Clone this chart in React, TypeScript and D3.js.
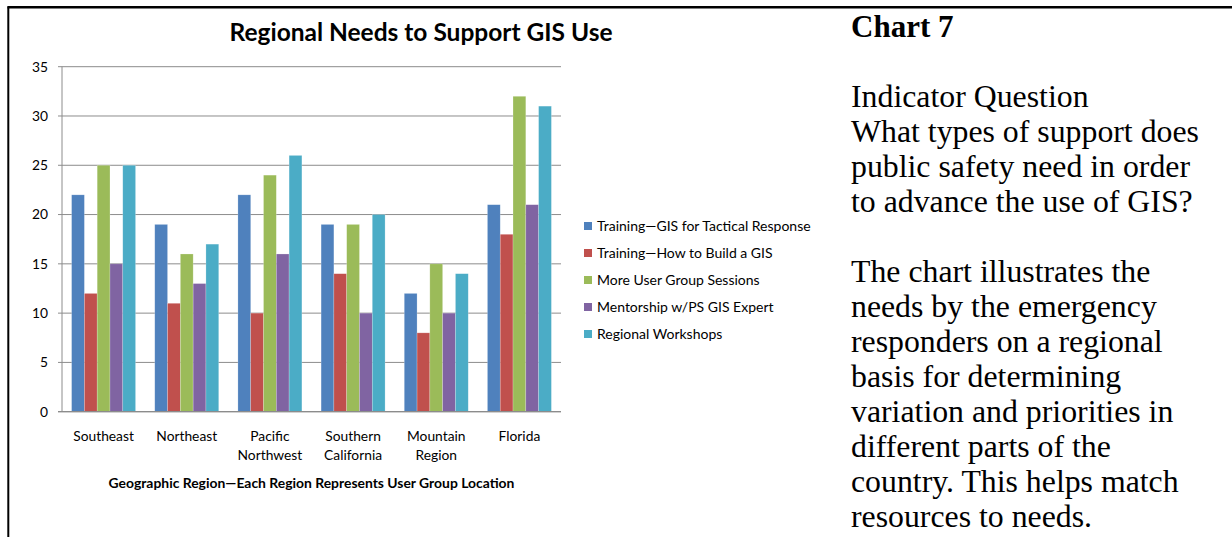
import React from "react";
import * as d3 from "d3";

const categories = ["Southeast", "Northeast", "Pacific Northwest", "Southern California", "Mountain Region", "Florida"];
const seriesNames = [
  "Training—GIS for Tactical Response",
  "Training—How to Build a GIS",
  "More User Group Sessions",
  "Mentorship w/PS GIS Expert",
  "Regional Workshops",
];
const tacticalResponse = [22, 19, 22, 19, 12, 21];
const buildGIS = [12, 11, 10, 14, 8, 18];
const userGroupSessions = [25, 16, 24, 19, 15, 32];
const mentorship = [15, 13, 16, 10, 10, 21];
const regionalWorkshops = [25, 17, 26, 20, 14, 31];
const yTicks = [0, 5, 10, 15, 20, 25, 30, 35];

const chartTitle = "Regional Needs to Support GIS Use";
const xAxisTitle = "Geographic Region—Each Region Represents User Group Location";
const sideHeading = "Chart 7";
const sideLines = [
  "",
  "Indicator Question",
  "What types of support does",
  "public safety need in order",
  "to advance the use of GIS?",
  "",
  "The chart illustrates the",
  "needs by the emergency",
  "responders on a regional",
  "basis for determining",
  "variation and priorities in",
  "different parts of the",
  "country. This helps match",
  "resources to needs.",
];

const colors = ["#4F81BD", "#C0504D", "#9BBB59", "#8064A2", "#4BACC6"];
const seriesValues = [tacticalResponse, buildGIS, userGroupSessions, mentorship, regionalWorkshops];

const W = 1232;
const H = 537;
const plot = { left: 62, right: 561, top: 66.7, bottom: 411.7 };
const sansFont = "Lato, 'Open Sans', sans-serif";
const serifFont = "'Liberation Serif', 'Times New Roman', serif";

export default function App() {
  const x0 = d3.scaleBand().domain(categories).range([plot.left, plot.right]).paddingInner(0).paddingOuter(0);
  // Excel gap width 150%: group = 5 bars, gap = 1.5 bars -> 6.5 bar units per band
  const barUnits = seriesNames.length + 1.5;
  const x1 = d3
    .scaleBand()
    .domain(seriesNames)
    .range([0, (x0.bandwidth() * seriesNames.length) / barUnits])
    .padding(0);
  const groupOffset = (x0.bandwidth() * 0.75) / barUnits;
  const y = d3.scaleLinear().domain([0, 35]).range([plot.bottom, plot.top]);

  const legendX = 584;
  const legendY0 = 226;
  const legendStep = 27;

  return (
    <svg
      width={W}
      height={H}
      style={{ position: "absolute", left: 0, top: 0, background: "#fff" }}
      xmlns="http://www.w3.org/2000/svg"
    >
      <rect x={0} y={0} width={W} height={H} fill="#fff" />
      {/* page table borders */}
      <line x1={7.5} y1={7.3} x2={W} y2={7.3} stroke="#000" strokeWidth={2.4} />
      <line x1={8.3} y1={6.5} x2={8.3} y2={H} stroke="#000" strokeWidth={2} />

      {/* title */}
      <text x={421} y={41} textAnchor="middle" fontFamily={sansFont} fontWeight={700} fontSize={24.5} fill="#000">
        {chartTitle}
      </text>

      {/* gridlines */}
      {yTicks.map((t) => (
        <g key={t}>
          <line x1={plot.left} x2={plot.right} y1={y(t)} y2={y(t)} stroke="#8c8c8c" strokeWidth={1} />
          <line x1={plot.left - 4} x2={plot.left} y1={y(t)} y2={y(t)} stroke="#8c8c8c" strokeWidth={1} />
          <text x={48} y={y(t)} dy="0.35em" textAnchor="end" fontFamily={sansFont} fontSize={13.8} fill="#000">
            {t}
          </text>
        </g>
      ))}
      <line x1={plot.left} x2={plot.left} y1={plot.top} y2={plot.bottom} stroke="#8c8c8c" strokeWidth={1} />

      {/* bars */}
      {categories.map((c, ci) => (
        <g key={c} transform={`translate(${(x0(c) ?? 0) + groupOffset},0)`}>
          {seriesNames.map((s, si) => {
            const v = seriesValues[si][ci];
            return (
              <rect
                key={s}
                x={x1(s)}
                y={y(v)}
                width={x1.bandwidth()}
                height={y(0) - y(v)}
                fill={colors[si]}
                stroke="rgba(255,255,255,0.35)"
                strokeWidth={0.6}
              />
            );
          })}
        </g>
      ))}
      <line x1={plot.left - 4} x2={plot.right} y1={plot.bottom} y2={plot.bottom} stroke="#8c8c8c" strokeWidth={1.3} />

      {/* category labels */}
      {categories.map((c) => {
        const words = c.split(" ");
        const cx = (x0(c) ?? 0) + x0.bandwidth() / 2;
        return (
          <text key={c} textAnchor="middle" fontFamily={sansFont} fontSize={13.8} fill="#000">
            {words.map((w, i) => (
              <tspan key={i} x={cx} y={441 + i * 19}>
                {w}
              </tspan>
            ))}
          </text>
        );
      })}

      {/* x axis title */}
      <text x={311.5} y={488} textAnchor="middle" fontFamily={sansFont} fontWeight={700} fontSize={13.9} fill="#000">
        {xAxisTitle}
      </text>

      {/* legend */}
      {seriesNames.map((s, i) => (
        <g key={s} transform={`translate(${legendX},${legendY0 + i * legendStep})`}>
          <rect x={0} y={-4} width={8} height={8} fill={colors[i]} />
          <text x={13} y={0} dy="0.35em" fontFamily={sansFont} fontSize={14} fill="#000">
            {s}
          </text>
        </g>
      ))}

      {/* side text */}
      <text x={851} y={37} fontFamily={serifFont} fontWeight={700} fontSize={31} fill="#000">
        {sideHeading}
      </text>
      {sideLines.map((line, i) =>
        line ? (
          <text key={i} x={851} y={37 + (i + 1) * 35} fontFamily={serifFont} fontSize={31.8} fill="#000">
            {line}
          </text>
        ) : null
      )}
    </svg>
  );
}
